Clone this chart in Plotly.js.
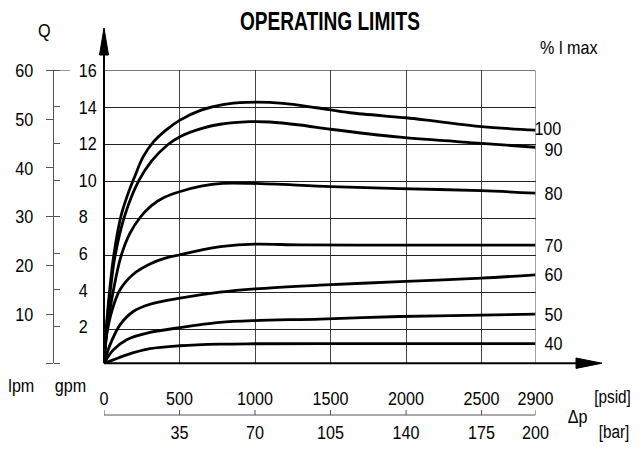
<!DOCTYPE html>
<html>
<head>
<meta charset="utf-8">
<script src="https://cdn.plot.ly/plotly-3.0.1.min.js"></script>
<style>html,body{margin:0;padding:0;background:#fff;}#chart{width:640px;height:449px;}</style>
</head>
<body>
<div id="chart"></div>
<script>
// ---- tick data ----
const barTicks = [0, 35, 70, 105, 140, 175, 200];
const psidLabels = ['0', '500', '1000', '1500', '2000', '2500', '2900'];
const barLabels = ['', '35', '70', '105', '140', '175', '200'];
const gpmTicks = [0, 2, 4, 6, 8, 10, 12, 14, 16];
const gpmLabels = ['', '2', '4', '6', '8', '10', '12', '14', '16'];
const gridGpm = [2, 4, 6, 8, 10, 12, 14, 16];
const lpmTicks = [0, 10, 20, 30, 40, 50, 60];
const lpmLabels = ['', '10', '20', '30', '40', '50', '60'];

// ---- series (x: delta p in bar, y: flow in gpm), one per % of I max ----
const seriesNames = ['100', '90', '80', '70', '60', '50', '40'];
const x100 = [0, 1, 2.5, 4.5, 8, 11, 14, 18, 23, 29, 35, 45, 55, 66, 83, 98.5, 114, 140, 152.5, 175, 200];
const y100 = [0.2, 2.0, 4.0, 6.0, 8.2, 9.3, 10.2, 11.3, 12.15, 12.8, 13.3, 13.85, 14.15, 14.27, 14.22, 13.98, 13.71, 13.44, 13.27, 12.96, 12.77];
const x90 = [0, 1.07, 2.78, 5.1, 9.73, 15.89, 22, 29.79, 35.21, 45, 53.74, 67.64, 76.91, 90.8, 105.03, 137.13, 174.98, 200];
const y90 = [0.2, 1.98, 3.96, 5.97, 8.2, 9.99, 11.1, 12.01, 12.42, 12.85, 13.09, 13.23, 13.21, 13.05, 12.82, 12.39, 12.06, 11.85];
const x80 = [0, 1.4, 4.3, 7.7, 12, 17, 22, 28, 35, 45, 55, 68, 105, 137, 175, 200];
const y80 = [0.2, 2.0, 4.1, 5.9, 7.2, 8.1, 8.7, 9.15, 9.45, 9.75, 9.9, 9.9, 9.73, 9.62, 9.51, 9.37];
const x70 = [0, 1.25, 3.57, 7.41, 13.57, 21.31, 28, 35.21, 45, 55, 70, 90.8, 137, 200];
const y70 = [0.2, 1.73, 2.99, 4.16, 5.0, 5.55, 5.85, 6.05, 6.3, 6.5, 6.62, 6.58, 6.57, 6.57];
const x60 = [0, 2.78, 7.41, 13.57, 21.31, 35.21, 53.74, 69.96, 100.07, 137.13, 174.98, 200];
const y60 = [0.2, 1.19, 2.27, 2.99, 3.38, 3.71, 4.03, 4.21, 4.41, 4.6, 4.79, 4.96];
const x50 = [0, 4.31, 10.52, 21.31, 35.21, 53.74, 69.96, 100.07, 137.13, 174.98, 200];
const y50 = [0.2, 0.92, 1.47, 1.86, 2.12, 2.4, 2.5, 2.58, 2.72, 2.79, 2.85];
const x40 = [0, 4.31, 10.52, 21.31, 35.21, 53.74, 69.96, 104.7, 200];
const y40 = [0.2, 0.38, 0.65, 0.98, 1.14, 1.23, 1.25, 1.26, 1.26];

const xs = [x100, x90, x80, x70, x60, x50, x40];
const ys = [y100, y90, y80, y70, y60, y50, y40];
const labelShift = [2, -2, 0, 0, 0, 0, 0];

const FONT = 'Liberation Sans, Arial, Helvetica, sans-serif';
const W = 640, H = 449;
const px = v => v / W;
const py = v => 1 - v / H;

const traces = xs.map((x, i) => ({
  type: 'scatter', mode: 'lines', x: x, y: ys[i], name: seriesNames[i],
  line: {color: '#000', width: 2.8, shape: 'spline', smoothing: 0.9},
  xaxis: 'x', yaxis: 'y', hoverinfo: 'skip'
}));
// invisible anchors so the secondary scales get drawn
const ghost = (xa, ya, yv) => ({type: 'scatter', mode: 'markers', x: [0], y: [yv], xaxis: xa, yaxis: ya,
  marker: {opacity: 0, size: 1}, hoverinfo: 'skip', showlegend: false});
traces.push(ghost('x2', 'y', 0.2), ghost('x', 'y2', 0), ghost('x', 'y3', 0));

const curveLabels = seriesNames.map((n, i) => ({
  x: xs[i][xs[i].length - 1], y: ys[i][ys[i].length - 1], xref: 'x', yref: 'y',
  text: n, showarrow: false, xanchor: 'right', yanchor: 'middle', xshift: 30, yshift: labelShift[i],
  font: {family: FONT, size: 19, color: '#000'}
}));

const txt = (t, x, y, size) => ({
  text: t, x: px(x), y: py(y), xref: 'paper', yref: 'paper', showarrow: false,
  xanchor: 'center', yanchor: 'middle', font: {family: FONT, size: size || 19, color: '#000'}
});

const tf = {family: FONT, size: 19, color: '#000'};

// bar scale: axis line and small upward ticks
const barAxisY = py(415), barTickTop = py(410);
const barTickShapes = barTicks.map(v => ({type: 'line', xref: 'x', yref: 'paper', x0: v, x1: v,
  y0: barAxisY, y1: barTickTop, line: {color: '#555', width: 1}}));

const layout = {
  width: W, height: H,
  margin: {l: 0, r: 0, t: 0, b: 0},
  paper_bgcolor: '#fff', plot_bgcolor: '#fff',
  showlegend: false,
  font: tf,
  title: {text: '<b>OPERATING LIMITS</b>', x: px(330), y: py(21), xref: 'paper', yref: 'container',
          xanchor: 'center', yanchor: 'middle', font: {family: FONT, size: 25, color: '#000'}},
  xaxis: {
    domain: [px(104), px(535.5)], range: [0, 200], anchor: 'y',
    tickmode: 'array', tickvals: barTicks, ticktext: psidLabels,
    showgrid: true, gridcolor: '#444', gridwidth: 1, zeroline: false, showline: false,
    ticks: '', ticklabelstandoff: 22, tickfont: tf
  },
  xaxis2: {
    overlaying: 'x', anchor: 'free', position: 1 - 415 / H, side: 'bottom',
    range: [0, 200], tickmode: 'array', tickvals: barTicks, ticktext: barLabels,
    showgrid: false, zeroline: false, showline: false, ticks: '',
    ticklabelstandoff: 4, tickfont: tf
  },
  yaxis: {
    domain: [py(363.2), py(70.3)], range: [0.2, 16], anchor: 'x',
    tickmode: 'array', tickvals: gridGpm, showticklabels: false,
    showgrid: true, gridcolor: '#222', gridwidth: 1, zeroline: false, showline: false, ticks: ''
  },
  yaxis2: {
    overlaying: 'y', anchor: 'free', position: px(53), side: 'left',
    range: [0, 60], tickmode: 'array', tickvals: lpmTicks, ticktext: lpmLabels,
    showgrid: false, zeroline: false, showline: true, linecolor: '#555', linewidth: 1,
    ticks: 'outside', ticklen: 7, tickcolor: '#555', tickwidth: 1,
    ticklabelstandoff: 9, tickfont: tf
  },
  yaxis3: {
    overlaying: 'y', anchor: 'free', position: px(53), side: 'right',
    range: [0, 16], tickmode: 'array', tickvals: gpmTicks, ticktext: gpmLabels,
    showgrid: false, zeroline: false, showline: false,
    ticks: 'outside', ticklen: 6, tickcolor: '#555', tickwidth: 1,
    ticklabelstandoff: 15, tickfont: tf
  },
  shapes: [
    // top and right frame lines of the grid
    {type: 'line', xref: 'x', yref: 'y', x0: 0, x1: 200, y0: 16, y1: 16, line: {color: '#222', width: 1}},
    {type: 'line', xref: 'x', yref: 'y', x0: 200, x1: 200, y0: 0.2, y1: 16, line: {color: '#444', width: 1}},
    // y-axis line with arrow
    {type: 'line', xref: 'paper', yref: 'paper', x0: px(104), x1: px(104), y0: py(363.2), y1: py(40),
     line: {color: '#000', width: 2}, layer: 'above'},
    {type: 'path', xref: 'paper', yref: 'paper',
     path: `M${px(104)},${py(28)} L${px(99.5)},${py(55)} L${px(108.5)},${py(55)} Z`,
     fillcolor: '#000', line: {color: '#000', width: 1}, layer: 'above'},
    // x-axis line with arrow
    {type: 'line', xref: 'paper', yref: 'paper', x0: px(104), x1: px(585), y0: py(363.2), y1: py(363.2),
     line: {color: '#000', width: 2}, layer: 'above'},
    {type: 'path', xref: 'paper', yref: 'paper',
     path: `M${px(602)},${py(363.2)} L${px(576)},${py(358)} L${px(576)},${py(368.4)} Z`,
     fillcolor: '#000', line: {color: '#000', width: 1}, layer: 'above'},
    // connector from 60 lpm to 16 gpm
    {type: 'line', xref: 'paper', yref: 'y2', x0: px(53), x1: px(70), y0: 60, y1: 60,
     line: {color: '#555', width: 1}},
    // bar scale axis line
    {type: 'line', xref: 'x', yref: 'paper', x0: 0, x1: 200, y0: barAxisY, y1: barAxisY,
     line: {color: '#555', width: 1}}
  ].concat(barTickShapes),
  annotations: curveLabels.concat([
    txt('Q', 44, 30),
    txt('% l max', 569, 48),
    txt('lpm', 21, 385),
    txt('gpm', 70, 385),
    txt('[psid]', 612, 397, 18),
    txt('[bar]', 614, 432, 18),
    txt('\u0394p', 577, 416)
  ])
};

Plotly.newPlot('chart', traces, layout, {staticPlot: true, displayModeBar: false}).then(gd => {
  // mimic the narrow drafting lettering of the original by condensing each text horizontally
  gd.querySelectorAll('svg text').forEach(t => {
    const w = t.getComputedTextLength();
    if (!w) return;
    const isTitle = t.classList.contains('gtitle');
    const target = isTitle ? 180 : w * 0.85;
    t.setAttribute('textLength', target.toFixed(1));
    t.setAttribute('lengthAdjust', 'spacingAndGlyphs');
  });
});
</script>
</body>
</html>
